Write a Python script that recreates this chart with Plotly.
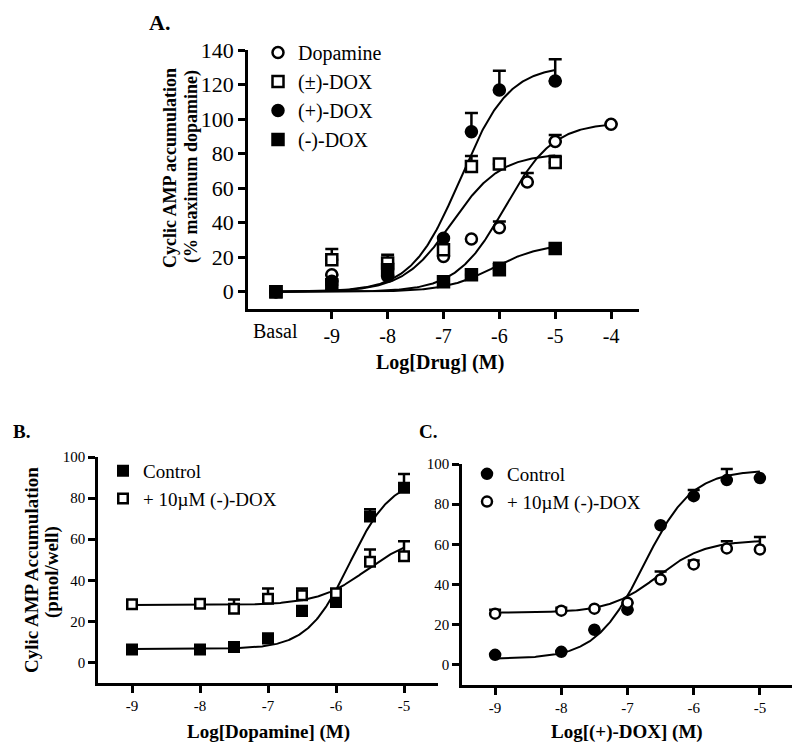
import numpy as np
import plotly.graph_objects as go

FONT = "Liberation Serif, Times New Roman, serif"
W, H = 800, 753
OFF = 8  # page body margin compensation

# ---------------- Panel A data ----------------
a_dop_x = [-10, -9, -7, -6.5, -6, -5.5, -5, -4]
a_dop_y = [0, 9.8, 20.4, 30.6, 37, 63.6, 87, 97]
a_dop_e = [0, 0, 0, 0, 3.7, 5.2, 3.8, 0]

a_rac_x = [-10, -9, -8, -7, -6.5, -6, -5]
a_rac_y = [0, 18.5, 16.6, 24.3, 72.5, 74, 74.8]
a_rac_e = [0, 6.3, 4.8, 0, 6.1, 0, 3.8]

a_plus_x = [-10, -9, -8, -7, -6.5, -6, -5]
a_plus_y = [0, 6, 9, 31, 92.7, 116.8, 122]
a_plus_e = [0, 0, 0, 0, 10.8, 11.2, 12.6]

a_minus_x = [-10, -9, -8, -7, -6.5, -6, -5]
a_minus_y = [0, 4, 12.7, 5.8, 9.8, 12.7, 25]
a_minus_e = [0, 0, 0, 0, 0, 4.1, 0]

# fitted curve parameters: bottom, top, logEC50, hill, x start, x end
a_dop_fit = [0, 98, -5.9, 1.0, -10, -4]
a_rac_fit = [0, 80, -6.85, 1.0, -10, -5]
a_plus_fit = [0, 131, -6.7, 1.0, -10, -5]
a_minus_fit = [0, 28, -6.1, 1.0, -10, -5]

a_xtick_vals = [-9, -8, -7, -6, -5, -4]
a_xtick_text = ["-9", "-8", "-7", "-6", "-5", "-4"]
a_ytick_vals = [0, 20, 40, 60, 80, 100, 120, 140]

# ---------------- Panel B data ----------------
b_x = [-9, -8, -7.5, -7, -6.5, -6, -5.5, -5]
b_ctrl_y = [6.3, 6.3, 7.5, 11.7, 25, 29.4, 71, 85]
b_ctrl_e = [0, 0, 0, 2.3, 2.5, 0, 3.6, 6.7]
b_dox_y = [28.3, 28.6, 26.2, 31, 32.7, 33.7, 49, 51.7]
b_dox_e = [0, 0, 4.5, 5, 3.3, 0, 6, 7.3]
b_ctrl_fit = [6.5, 90, -5.8, 1.4, -9, -5]
b_dox_fit = [28, 62, -5.55, 1.2, -9, -5]

# ---------------- Panel C data ----------------
c_x = [-9, -8, -7.5, -7, -6.5, -6, -5.5, -5]
c_ctrl_y = [5, 6.5, 17.5, 27.5, 69.5, 84, 92, 93]
c_ctrl_e = [0, 0, 0, 0, 0, 3, 5.5, 0]
c_dox_y = [25.5, 27, 28, 31, 42.5, 50, 58, 57.5]
c_dox_e = [2, 1.5, 0, 0, 4, 2, 3.5, 6.2]
c_ctrl_fit = [3, 97, -6.75, 1.2, -9, -5]
c_dox_fit = [26, 62, -6.55, 1.2, -9, -5]

bc_xtick_vals = [-9, -8, -7, -6, -5]
bc_xtick_text = ["-9", "-8", "-7", "-6", "-5"]
bc_ytick_vals = [0, 20, 40, 60, 80, 100]


def hill_curve(p):
    bottom, top, ec50, hill, x0, x1 = p
    xs = np.linspace(x0, x1, 300)
    ys = bottom + (top - bottom) / (1 + 10 ** ((ec50 - xs) * hill))
    return xs, ys


def px(x):
    return (x - OFF) / W


def py(y):
    return (H - (y - OFF)) / H


fig = go.Figure()


def add_curve(p, xa, ya):
    xs, ys = hill_curve(p)
    fig.add_trace(go.Scatter(x=xs, y=ys, mode="lines", xaxis=xa, yaxis=ya,
                             line=dict(color="black", width=2),
                             showlegend=False, hoverinfo="skip"))


def add_points(x, y, e, name, symbol, filled, size, xa, ya, legend, cap):
    fig.add_trace(go.Scatter(
        x=x, y=y, mode="markers", name=name, xaxis=xa, yaxis=ya, legend=legend,
        marker=dict(symbol=symbol, size=size,
                    color="black" if filled else "white",
                    line=dict(color="black", width=2.5)),
        error_y=dict(type="data", symmetric=False, array=e,
                     arrayminus=[0] * len(e), color="black",
                     thickness=2.5, width=cap),
    ))


# Panel A
for p in [a_dop_fit, a_rac_fit, a_plus_fit, a_minus_fit]:
    add_curve(p, "x", "y")
add_points(a_dop_x, a_dop_y, a_dop_e, "Dopamine", "circle", False, 11, "x", "y", "legend", 6.5)
add_points(a_rac_x, a_rac_y, a_rac_e, "(\u00b1)-DOX", "square", False, 11, "x", "y", "legend", 6.5)
add_points(a_plus_x, a_plus_y, a_plus_e, "(+)-DOX", "circle", True, 11, "x", "y", "legend", 6.5)
add_points(a_minus_x, a_minus_y, a_minus_e, "(-)-DOX", "square", True, 11, "x", "y", "legend", 6.5)

# Panel B
add_curve(b_ctrl_fit, "x2", "y2")
add_curve(b_dox_fit, "x2", "y2")
add_points(b_x, b_ctrl_y, b_ctrl_e, "Control", "square", True, 9.5, "x2", "y2", "legend2", 6)
add_points(b_x, b_dox_y, b_dox_e, "+ 10\u00b5M (-)-DOX", "square", False, 9.5, "x2", "y2", "legend2", 6)

# Panel C
add_curve(c_ctrl_fit, "x3", "y3")
add_curve(c_dox_fit, "x3", "y3")
add_points(c_x, c_ctrl_y, c_ctrl_e, "Control", "circle", True, 10, "x3", "y3", "legend3", 6)
add_points(c_x, c_dox_y, c_dox_e, "+ 10\u00b5M (-)-DOX", "circle", False, 10, "x3", "y3", "legend3", 6)

axis_common = dict(showline=True, linewidth=2.5, linecolor="black", ticks="outside",
                   ticklen=7, tickwidth=2.5, tickcolor="black", showgrid=False,
                   zeroline=False, automargin=False)

fig.update_layout(
    template="none",
    width=W, height=H, margin=dict(l=0, r=0, t=0, b=0, pad=0), autosize=False,
    paper_bgcolor="white", plot_bgcolor="white",
    font=dict(family=FONT, color="black"),
    xaxis=dict(domain=[px(248), px(639)], range=[-10.5, -3.5], anchor="y",
               tickvals=a_xtick_vals, ticktext=a_xtick_text,
               tickfont=dict(size=20, family=FONT, color="black"), **axis_common),
    yaxis=dict(domain=[py(309), py(50)], range=[-10, 140], anchor="x",
               tickvals=a_ytick_vals, tickfont=dict(size=22, family=FONT, color="black"),
               **axis_common),
    xaxis2=dict(domain=[px(98), px(438)], range=[-9.5, -4.5], anchor="y2",
                tickvals=bc_xtick_vals, ticktext=bc_xtick_text,
                tickfont=dict(size=15, family=FONT, color="black"), **axis_common),
    yaxis2=dict(domain=[py(683), py(457)], range=[-10, 100], anchor="x2",
                tickvals=bc_ytick_vals, tickfont=dict(size=15, family=FONT, color="black"),
                **axis_common),
    xaxis3=dict(domain=[px(462), px(793)], range=[-9.5, -4.5], anchor="y3",
                tickvals=bc_xtick_vals, ticktext=bc_xtick_text,
                tickfont=dict(size=15, family=FONT, color="black"), **axis_common),
    yaxis3=dict(domain=[py(685), py(464)], range=[-10, 100], anchor="x3",
                tickvals=bc_ytick_vals, tickfont=dict(size=15, family=FONT, color="black"),
                **axis_common),
    legend=dict(x=px(258), y=py(33), xanchor="left", yanchor="top",
                bgcolor="rgba(0,0,0,0)", font=dict(size=20, family=FONT, color="black"),
                tracegroupgap=0, itemclick=False, itemdoubleclick=False),
    legend2=dict(x=px(103), y=py(452), xanchor="left", yanchor="top",
                 bgcolor="rgba(0,0,0,0)", font=dict(size=19, family=FONT, color="black"),
                 tracegroupgap=0, itemclick=False, itemdoubleclick=False),
    legend3=dict(x=px(467), y=py(455), xanchor="left", yanchor="top",
                 bgcolor="rgba(0,0,0,0)", font=dict(size=19, family=FONT, color="black"),
                 tracegroupgap=0, itemclick=False, itemdoubleclick=False),
)


def ann(text, x, y, size, bold=False, angle=0, xref="paper", yref="paper"):
    fig.add_annotation(text=f"<b>{text}</b>" if bold else text,
                       x=x, y=y, xref=xref, yref=yref, showarrow=False,
                       xanchor="center", yanchor="middle", textangle=angle,
                       font=dict(size=size, family=FONT, color="black"))


# panel labels
ann("A.", px(159), py(23), 22, bold=True)
ann("B.", px(21), py(432), 19, bold=True)
ann("C.", px(428), py(432), 19, bold=True)

# axis titles
ann("Cyclic AMP accumulation", px(170), py(168), 18, bold=True, angle=-90)
ann("(% maximum dopamine)", px(191), py(167), 18, bold=True, angle=-90)
ann("Log[Drug] (M)", px(440), py(362), 20, bold=True)
ann("Cylic AMP Accumulation", px(31), py(570), 19, bold=True, angle=-90)
ann("(pmol/well)", px(52), py(572), 19, bold=True, angle=-90)
ann("Log[Dopamine] (M)", px(268), py(732), 19, bold=True)
ann("Log[(+)-DOX] (M)", px(627), py(732), 19, bold=True)

# Basal category label on panel A x axis
ann("Basal", -10, py(331), 20, xref="x", yref="paper")

fig.write_html("out.html")
